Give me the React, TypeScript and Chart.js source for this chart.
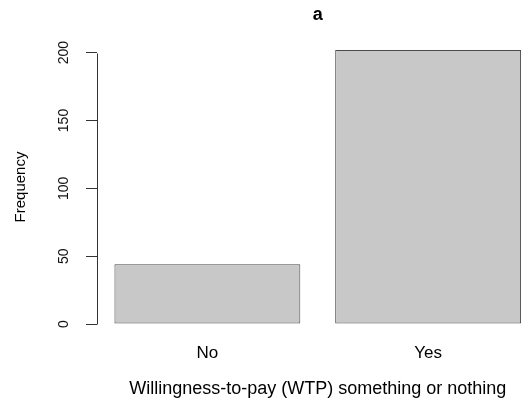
import React, { useEffect, useRef } from "react";
import { Chart, registerables } from "chart.js";

Chart.register(...registerables);

const categories: string[] = ["No", "Yes"];
const frequencies: number[] = [44, 202];
const yTickValues: number[] = [0, 50, 100, 150, 200];
const chartTitle = "a";
const xAxisTitle = "Willingness-to-pay (WTP) something or nothing";
const yAxisTitle = "Frequency";

const FONT = "'Liberation Sans', Arial, Helvetica, sans-serif";

const rAxisPlugin = {
  id: "rAxis",
  afterDraw(chart: any) {
    const ctx = chart.ctx;
    const y = chart.scales.y;
    const x0 = chart.chartArea.left;
    ctx.save();
    ctx.strokeStyle = "#333333";
    ctx.lineWidth = 1;
    ctx.beginPath();
    const top = Math.round(y.getPixelForValue(yTickValues[yTickValues.length - 1])) + 0.5;
    const bot = Math.round(y.getPixelForValue(yTickValues[0])) + 0.5;
    ctx.moveTo(Math.round(x0) + 0.5, top);
    ctx.lineTo(Math.round(x0) + 0.5, bot);
    ctx.stroke();
    ctx.fillStyle = "#111111";
    ctx.font = `14px ${FONT}`;
    ctx.textAlign = "center";
    ctx.textBaseline = "middle";
    for (const v of yTickValues) {
      const py = y.getPixelForValue(v);
      ctx.save();
      ctx.translate(x0 - 33, py);
      ctx.rotate(-Math.PI / 2);
      ctx.fillText(String(v), 0, 0);
      ctx.restore();
    }
    ctx.restore();
  },
};

export default function App() {
  const canvasRef = useRef<HTMLCanvasElement | null>(null);

  useEffect(() => {
    if (!canvasRef.current) return;
    const maxV = Math.max(...frequencies);
    const pad = maxV * 0.04;
    const chart = new Chart(canvasRef.current, {
      type: "bar",
      data: {
        labels: categories,
        datasets: [
          {
            data: frequencies,
            backgroundColor: "#C8C8C8",
            borderColor: "#4a4a4a",
            borderWidth: 1,
            borderSkipped: false,
            categoryPercentage: 1,
            barPercentage: 0.842,
          },
        ],
      },
      options: {
        responsive: false,
        animation: false,
        devicePixelRatio: 1,
        layout: { padding: { left: 0, right: 6.5, top: 0, bottom: 1 } },
        plugins: {
          legend: { display: false },
          tooltip: { enabled: false },
          title: {
            display: true,
            text: chartTitle,
            fullSize: false,
            color: "#000000",
            font: { family: FONT, size: 18, weight: "bold" },
            padding: { top: 4, bottom: 13.4 },
          },
        },
        scales: {
          x: {
            type: "category",
            offset: true,
            grid: { display: false, drawTicks: false },
            border: { display: false },
            ticks: {
              color: "#000000",
              font: { family: FONT, size: 17 },
              padding: 8,
              maxRotation: 0,
            },
            title: {
              display: true,
              text: xAxisTitle,
              color: "#000000",
              font: { family: FONT, size: 18 },
              padding: { top: 7, bottom: 0 },
            },
          },
          y: {
            type: "linear",
            min: -pad,
            max: maxV + pad,
            afterBuildTicks: (scale: any) => {
              scale.ticks = yTickValues.map((v) => ({ value: v }));
            },
            afterFit: (scale: any) => {
              scale.width = 97;
            },
            grid: {
              display: true,
              drawOnChartArea: false,
              drawTicks: true,
              tickLength: 11,
              color: "#333333",
              lineWidth: 1,
            },
            border: { display: false },
            ticks: { display: false },
            title: {
              display: true,
              text: yAxisTitle,
              color: "#000000",
              font: { family: FONT, size: 15 },
              padding: { top: 12, bottom: 0 },
            },
          },
        },
      },
      plugins: [rAxisPlugin],
    });
    return () => chart.destroy();
  }, []);

  return (
    <div
      style={{
        position: "fixed",
        left: 0,
        top: 0,
        width: 527,
        height: 401,
        overflow: "hidden",
        background: "#ffffff",
      }}
    >
      <canvas ref={canvasRef} width={545} height={401} style={{ display: "block" }} />
    </div>
  );
}
